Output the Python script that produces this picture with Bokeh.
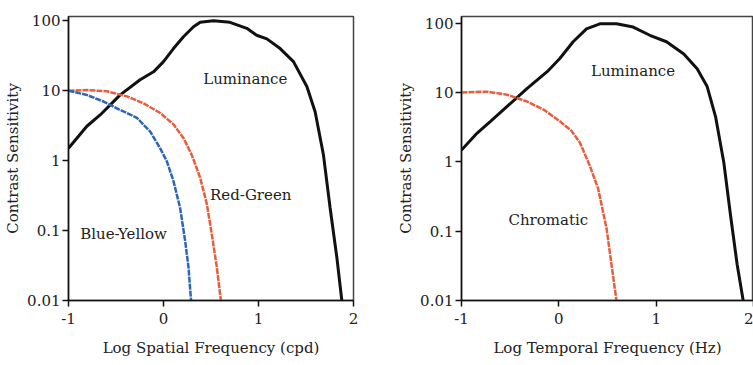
from bokeh.plotting import figure
from bokeh.layouts import row
from bokeh.models import FixedTicker, Label
from bokeh.embed import file_html
from bokeh.resources import INLINE

# ---------------- data ----------------
# Left panel: spatial CSF
sp_lum_x = [-1.0, -0.807, -0.667, -0.456, -0.246, -0.105, 0.0, 0.105, 0.21, 0.316, 0.386, 0.526,
            0.70, 0.877, 0.98, 1.088, 1.228, 1.368, 1.509, 1.596, 1.684, 1.754, 1.825, 1.877]
sp_lum_y = [1.5, 3.1, 4.5, 8.7, 14.3, 18.6, 26, 40, 59, 82, 95, 100,
            95, 78, 62, 55, 40, 26, 11.5, 5.0, 1.2, 0.21, 0.041, 0.01]

sp_rg_x = [-1.0, -0.807, -0.596, -0.386, -0.21, -0.035, 0.105, 0.21, 0.298, 0.386, 0.456, 0.509, 0.561, 0.604]
sp_rg_y = [10, 10.2, 9.8, 8.3, 6.6, 4.8, 3.3, 2.1, 1.2, 0.57, 0.24, 0.088, 0.03, 0.01]

sp_by_x = [-1.0, -0.807, -0.632, -0.456, -0.28, -0.14, -0.035, 0.035, 0.105, 0.175, 0.228, 0.263, 0.29]
sp_by_y = [10, 8.7, 7.0, 5.3, 4.1, 2.6, 1.5, 0.98, 0.51, 0.21, 0.071, 0.03, 0.01]

# Right panel: temporal CSF
tp_lum_x = [-1.0, -0.839, -0.702, -0.531, -0.325, -0.12, 0.01, 0.147, 0.284, 0.421, 0.592, 0.764,
            0.935, 1.106, 1.284, 1.421, 1.524, 1.61, 1.695, 1.764, 1.832, 1.894]
tp_lum_y = [1.48, 2.6, 3.85, 6.3, 11.5, 20, 31, 54, 83, 98, 98, 88,
            67, 54, 36, 22, 12.2, 4.5, 0.98, 0.17, 0.033, 0.01]

tp_chr_x = [-1.0, -0.736, -0.531, -0.325, -0.154, 0.01, 0.13, 0.216, 0.318, 0.404, 0.49, 0.541, 0.592]
tp_chr_y = [10, 10.3, 9.3, 7.4, 5.65, 3.85, 2.8, 1.9, 0.88, 0.41, 0.11, 0.033, 0.01]

x_ticks = [-1, 0, 1, 2]
y_ticks = [0.01, 0.1, 1, 10, 100]
y_tick_labels = ["0.01", "0.1", "1", "10", "100"]

left_labels = ["Luminance", "Red-Green", "Blue-Yellow"]
left_label_x = [0.418, 0.49, -0.877]
left_label_y = [14.9, 0.323, 0.09]

right_labels = ["Luminance", "Chromatic"]
right_label_x = [0.33, -0.518]
right_label_y = [20.6, 0.144]

FONT = "DejaVu Serif"
BLACK = "#111111"
RED = "#e65e3e"
BLUE = "#2f66b2"


def make_fig(width, bl, br, bt, bb, xlabel, y_end):
    p = figure(width=width, height=365, y_axis_type="log",
               x_range=(-1, 2), y_range=(0.01, y_end),
               output_backend="svg", toolbar_location=None,
               min_border_left=bl, min_border_right=br,
               min_border_top=bt, min_border_bottom=bb)
    p.grid.visible = False
    p.outline_line_color = "#444444"
    p.outline_line_width = 1.5
    p.background_fill_color = "white"
    p.border_fill_color = "white"

    p.xaxis.ticker = FixedTicker(ticks=x_ticks)
    p.yaxis.ticker = FixedTicker(ticks=y_ticks)
    p.yaxis.major_label_overrides = {t: s for t, s in zip(y_ticks, y_tick_labels)}
    p.xaxis.major_label_overrides = {t: str(t) for t in x_ticks}
    for ax in (p.xaxis, p.yaxis):
        ax.axis_line_color = BLACK
        ax.axis_line_width = 1.5
        ax.major_tick_line_color = BLACK
        ax.major_tick_line_width = 1.5
        ax.major_tick_in = 0
        ax.major_tick_out = 6
        ax.minor_tick_line_color = None
        ax.major_label_text_font = FONT
        ax.major_label_text_font_size = "15px"
        ax.major_label_text_color = "#222222"
        ax.axis_label_text_font = FONT
        ax.axis_label_text_font_size = "15px"
        ax.axis_label_text_font_style = "normal"
        ax.axis_label_text_color = "#222222"
    p.xaxis.major_label_standoff = 6
    p.yaxis.major_label_standoff = 2
    p.xaxis.axis_label = xlabel
    p.yaxis.axis_label = "Contrast Sensitivity"
    p.xaxis.axis_label_standoff = 12
    p.yaxis.axis_label_standoff = 2
    return p


left = make_fig(380, 68, 27, 15, 65, "Log Spatial Frequency (cpd)", 115)
left.line(sp_lum_x, sp_lum_y, line_color=BLACK, line_width=3)
left.line(sp_rg_x, sp_rg_y, line_color=RED, line_width=2.5, line_dash="6 1")
left.line(sp_by_x, sp_by_y, line_color=BLUE, line_width=2.5, line_dash="6 1")
for t, x, y in zip(left_labels, left_label_x, left_label_y):
    left.add_layout(Label(x=x, y=y, text=t, text_font=FONT, text_font_size="15px",
                          text_color="#222222", text_baseline="middle", text_align="left"))

right = make_fig(373, 81, 0, 16, 62, "Log Temporal Frequency (Hz)", 125)
right.line(tp_lum_x, tp_lum_y, line_color=BLACK, line_width=3)
right.line(tp_chr_x, tp_chr_y, line_color=RED, line_width=2.5, line_dash="6 1")
for t, x, y in zip(right_labels, right_label_x, right_label_y):
    right.add_layout(Label(x=x, y=y, text=t, text_font=FONT, text_font_size="15px",
                           text_color="#222222", text_baseline="middle", text_align="left"))

layout = row(left, right)
open("out.html", "w").write(file_html(layout, INLINE))
